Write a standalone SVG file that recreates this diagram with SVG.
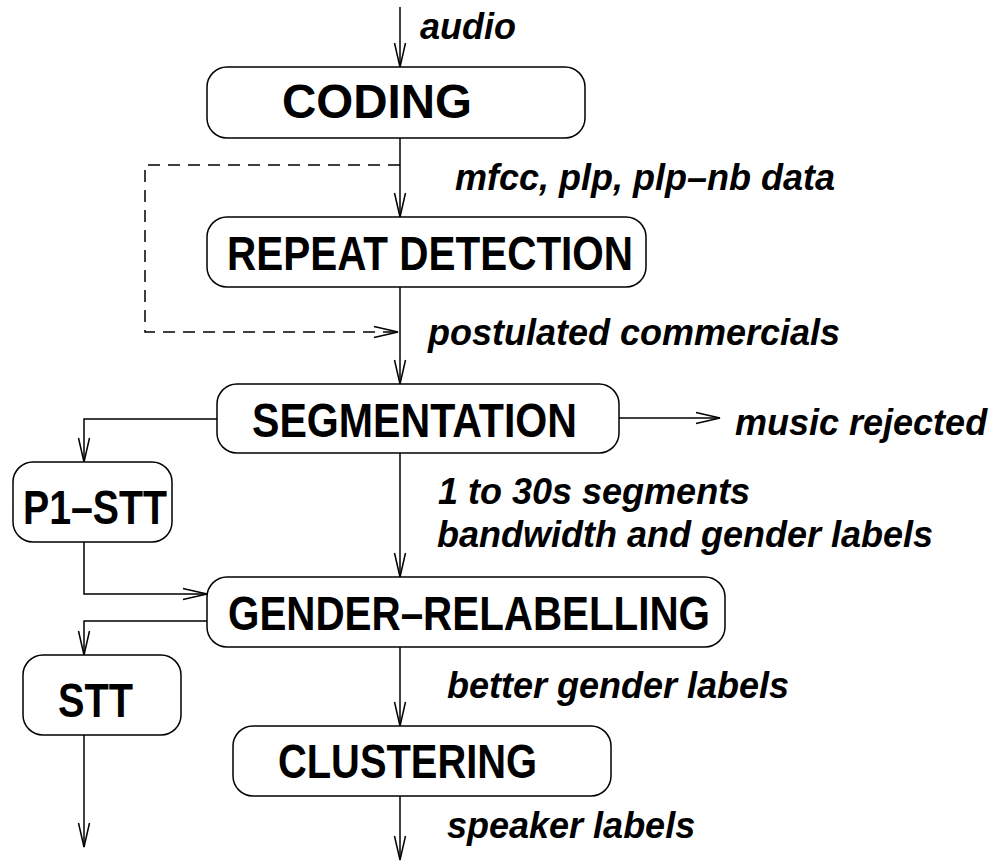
<svg xmlns="http://www.w3.org/2000/svg" width="994" height="862" viewBox="0 0 994 862">
<style>
.box{fill:#fff;stroke:#000;stroke-width:1.5}
.bt{font-family:"Liberation Sans",Arial,sans-serif;font-weight:bold;font-size:48px;fill:#000}
.lb{font-family:"Liberation Sans",Arial,sans-serif;font-weight:bold;font-style:italic;font-size:36px;fill:#000}
.ln{fill:none;stroke:#000;stroke-width:1.5;marker-end:url(#ah)}
.dash{stroke-dasharray:12,8}
</style>
<defs>
<marker id="ah" markerUnits="userSpaceOnUse" orient="auto" refX="0" refY="0" markerWidth="30" markerHeight="14" overflow="visible">
<path d="M-24,-5.5 L0,0 L-24,5.5" fill="none" stroke="#000" stroke-width="1.5"/>
</marker>
</defs>
<g id="connectors">
<path class="ln" d="M400,7 V67"/>
<path class="ln" d="M400,138 V217"/>
<path class="ln" d="M400,287 V384"/>
<path class="ln" d="M400,453 V577"/>
<path class="ln" d="M400,647 V726"/>
<path class="ln" d="M400,796 V860"/>
<path class="ln dash" d="M400,165 H145 V332 H398"/>
<path class="ln" d="M217,419 H84 V462"/>
<path class="ln" d="M84,542 V594 H207"/>
<path class="ln" d="M619,418 H720"/>
<path class="ln" d="M207,621 H84 V655"/>
<path class="ln" d="M84,735 V847"/>
</g>
<g id="coding"><rect class="box" x="207" y="67" width="378" height="71" rx="20"/><text class="bt" x="282" y="118" font-size="44" textLength="190" lengthAdjust="spacingAndGlyphs">CODING</text></g>
<g id="repeat"><rect class="box" x="207" y="217" width="439" height="70" rx="20"/><text class="bt" x="227" y="270" textLength="406" lengthAdjust="spacingAndGlyphs">REPEAT DETECTION</text></g>
<g id="segmentation"><rect class="box" x="217" y="384" width="402" height="69" rx="20"/><text class="bt" x="252" y="437" textLength="325" lengthAdjust="spacingAndGlyphs">SEGMENTATION</text></g>
<g id="p1stt"><rect class="box" x="13" y="462" width="159" height="80" rx="20"/><text class="bt" x="23" y="524" textLength="144" lengthAdjust="spacingAndGlyphs">P1–STT</text></g>
<g id="gender"><rect class="box" x="207" y="577" width="518" height="70" rx="20"/><text class="bt" x="228" y="630" textLength="482" lengthAdjust="spacingAndGlyphs">GENDER–RELABELLING</text></g>
<g id="stt"><rect class="box" x="23" y="655" width="158" height="80" rx="20"/><text class="bt" x="58" y="717" textLength="75" lengthAdjust="spacingAndGlyphs">STT</text></g>
<g id="clustering"><rect class="box" x="233" y="726" width="378" height="70" rx="20"/><text class="bt" x="278" y="778" textLength="259" lengthAdjust="spacingAndGlyphs">CLUSTERING</text></g>
<g id="labels">
<text class="lb" x="420" y="39">audio</text>
<text class="lb" x="455" y="190">mfcc, plp, plp–nb data</text>
<text class="lb" x="428" y="345">postulated commercials</text>
<text class="lb" x="735" y="435">music rejected</text>
<text class="lb" x="438" y="504">1 to 30s segments</text>
<text class="lb" x="437" y="547">bandwidth and gender labels</text>
<text class="lb" x="447" y="698">better gender labels</text>
<text class="lb" x="447" y="838">speaker labels</text>
</g>
</svg>
